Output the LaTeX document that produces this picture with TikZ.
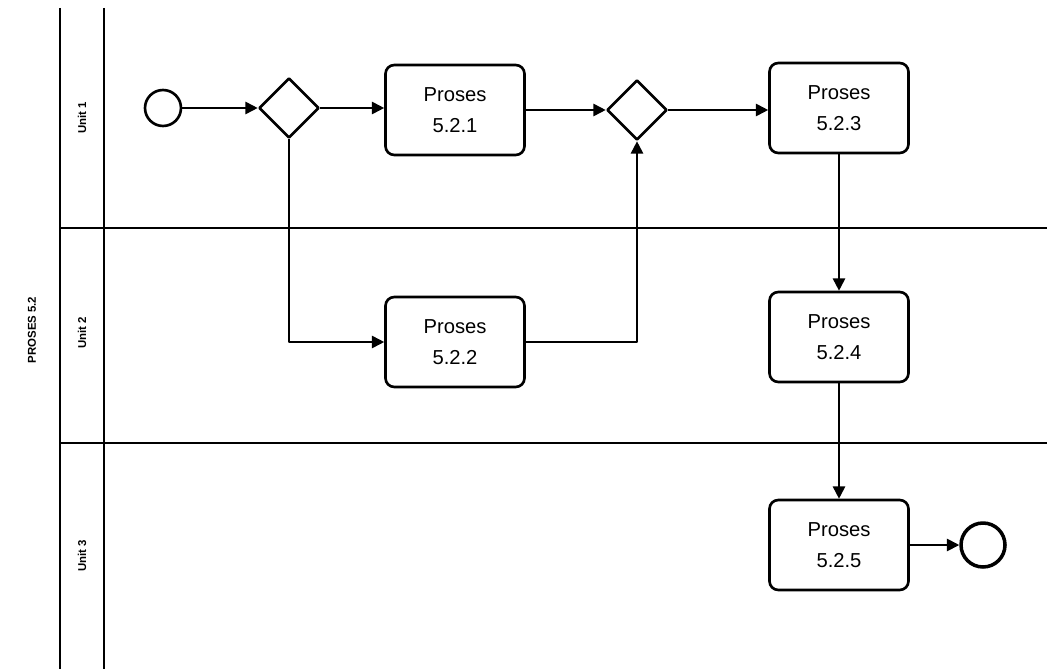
\documentclass[tikz,border=0pt]{standalone}
\usepackage{fontspec}
\setmainfont{Liberation Sans}
\usetikzlibrary{shapes.geometric,arrows.meta}

\begin{document}
\begin{tikzpicture}[x=0.02cm, y=-0.02cm, font=\fontsize{11.5}{18}\selectfont, line join=round, >={Triangle[length=7pt,width=7pt]},
    proc/.style={draw, line width=1.5pt, rounded corners=5pt, minimum width=2.78cm, minimum height=1.8cm, align=center},
    gate/.style={draw, diamond, line width=1.5pt, minimum width=1.2cm, minimum height=1.2cm, inner sep=0pt},
    lane/.style={rotate=90, font=\fontsize{6.5}{7}\selectfont\bfseries}]
            \useasboundingbox (0,0) rectangle (1047,669);
            % pool and lanes
            \draw[line width=1.2pt] (60,8) -- (60,669);
            \draw[line width=1.2pt] (104,8) -- (104,669);
            \draw[line width=1pt] (60,228) -- (1047,228);
            \draw[line width=1pt] (60,443) -- (1047,443);
            \node[lane] (pool) at (32,330) {PROSES 5.2};
            \node[lane] (u1) at (82,118) {Unit 1};
            \node[lane] (u2) at (82,333) {Unit 2};
            \node[lane] (u3) at (82,556) {Unit 3};
            % events, gateways and tasks
            \node[draw, circle, line width=1.5pt, minimum size=0.72cm] (start) at (163,108) {};
            \node[gate] (g1) at (289,108) {};
            \node[proc] (p1) at (455,110) {Proses\\5.2.1};
            \node[gate] (g2) at (637,110) {};
            \node[proc] (p3) at (839,108) {Proses\\5.2.3};
            \node[proc] (p2) at (455,342) {Proses\\5.2.2};
            \node[proc] (p4) at (839,337) {Proses\\5.2.4};
            \node[proc] (p5) at (839,545) {Proses\\5.2.5};
            \node[draw, circle, line width=2pt, minimum size=0.88cm] (end) at (983,545) {};
            % flows
            \draw[->, line width=1pt] (start) -- (g1);
            \draw[->, line width=1pt] (g1) -- (p1.west |- g1);
            \draw[->, line width=1pt] (g1.south) |- (p2);
            \draw[->, line width=1pt] (p1) -- (g2);
            \draw[->, line width=1pt] (p2) -| (g2.south);
            \draw[->, line width=1pt] (g2) -- (p3.west |- g2);
            \draw[->, line width=1pt] (p3) -- (p4);
            \draw[->, line width=1pt] (p4) -- (p5);
            \draw[->, line width=1pt] (p5) -- (end);
    \end{tikzpicture}
\end{document}
